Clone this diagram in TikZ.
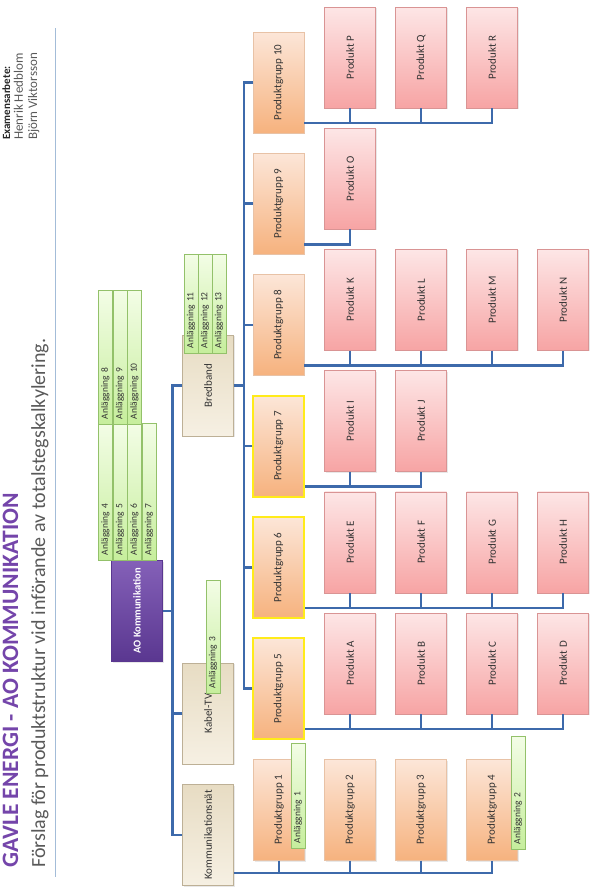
\documentclass[tikz,border=0pt]{standalone}
\usepackage{fontspec}
\setmainfont{Carlito}
\usetikzlibrary{positioning,shadows}

\definecolor{linkblue}{HTML}{3D6AAB}
\definecolor{titlepurple}{HTML}{7445AA}
\definecolor{subgray}{HTML}{595959}
\definecolor{sepblue}{HTML}{A3BCD8}
\definecolor{prodlight}{HTML}{FDE6E6}
\definecolor{proddark}{HTML}{F7A4A4}
\definecolor{prodline}{HTML}{D99494}
\definecolor{grplight}{HTML}{FCE6D8}
\definecolor{grpdark}{HTML}{F6B27E}
\definecolor{grpline}{HTML}{E8C2A6}
\definecolor{divlight}{HTML}{E7DCC3}
\definecolor{divdark}{HTML}{F6F0E3}
\definecolor{divline}{HTML}{BDB096}
\definecolor{anllight}{HTML}{F3FDE6}
\definecolor{anldark}{HTML}{C6EE9C}
\definecolor{anlline}{HTML}{93C16A}
\definecolor{rootlight}{HTML}{8460B8}
\definecolor{rootdark}{HTML}{5A3790}
\definecolor{hiyellow}{HTML}{FFEB1A}

\begin{document}
\begin{tikzpicture}[x=1pt,y=-1pt,
    box/.style={rotate=90, minimum width=101pt, minimum height=51pt, inner sep=0pt,
        font=\fontsize{11}{13}\selectfont, text=black!80,
        drop shadow={opacity=0.18, shadow xshift=1pt, shadow yshift=-1pt}},
    prod/.style={box, draw=prodline, top color=prodlight, bottom color=proddark},
    grp/.style={box, draw=grpline, top color=grplight, bottom color=grpdark},
    hilite/.style={draw=hiyellow, line width=2pt},
    div/.style={box, draw=divline, top color=divlight, bottom color=divdark},
    root/.style={box, draw=rootdark, top color=rootlight, bottom color=rootdark,
        text=white, font=\bfseries\fontsize{10.5}{12}\selectfont},
    anl/.style={rotate=90, minimum height=14pt, inner xsep=5pt, inner ysep=0pt,
        text width=#1, align=left, draw=anlline, top color=anllight, bottom color=anldark,
        font=\fontsize{9.5}{10}\selectfont, text=black!80},
    link/.style={draw=linkblue, line width=2.6pt},
    rottext/.style={rotate=90, anchor=base west, inner sep=0pt}]

\useasboundingbox (0,0) rectangle (592,889);

% rubrik
\node[rottext, text=titlepurple, font=\bfseries\fontsize{23.5}{26}\selectfont] (ttl) at (18,868)
    {GAVLE ENERGI - AO KOMMUNIKATION};
\node[rottext, text=subgray, font=\fontsize{20}{22}\selectfont] (sub) at (45,868)
    {Förslag för produktstruktur vid införande av totalstegskalkylering.};
\node[rottext, text=black!85, font=\bfseries\fontsize{11}{13}\selectfont] (exa) at (10,140) {Examensarbete:};
\node[rottext, text=subgray, font=\fontsize{13}{15}\selectfont] (nm1) at (23,140) {Henrik Hedblom};
\node[rottext, text=subgray, font=\fontsize{13}{15}\selectfont] (nm2) at (37,140) {Björn Viktorsson};
\draw[sepblue, line width=1pt] (55,28) -- (55,877);

% organisation
\node[root] (ao) at (137,611) {AO Kommunikation};
\node[div] (bred) at (208,385.5) {Bredband};
\node[div] (kabel) at (208,713.5) {Kabel-TV};
\node[div] (komm) at (208,835) {Kommunikationsnät};

\node[grp] (pg10) at (278.5,82.5) {Produktgrupp 10};
\node[grp] (pg9) at (278.5,203.7) {Produktgrupp 9};
\node[grp] (pg8) at (278.5,324.9) {Produktgrupp 8};
\node[grp, hilite] (pg7) at (278.5,446.1) {Produktgrupp 7};
\node[grp, hilite] (pg6) at (278.5,567.3) {Produktgrupp 6};
\node[grp, hilite] (pg5) at (278.5,688.5) {Produktgrupp 5};
\foreach \i in {1,...,4}
    \node[grp] (pg\i) at ({279+71*(\i-1)},810) {Produktgrupp \i};

\foreach \n [count=\i] in {P,Q,R}
    \node[prod] (p\n) at ({279+71*\i},57.5) {Produkt \n};
\node[prod] (pO) at (350,178.7) {Produkt O};
\foreach \n [count=\i] in {K,L,M,N}
    \node[prod] (p\n) at ({279+71*\i},299.9) {Produkt \n};
\foreach \n [count=\i] in {I,J}
    \node[prod] (p\n) at ({279+71*\i},421.1) {Produkt \n};
\foreach \n [count=\i] in {E,F,G,H}
    \node[prod] (p\n) at ({279+71*\i},542.3) {Produkt \n};
\foreach \n [count=\i] in {A,B,C,D}
    \node[prod] (p\n) at ({279+71*\i},663.5) {Produkt \n};

% kopplingar
\draw[link] (ao.south) -- ++(9,0);
\draw[link] (bred.north) -- ++(-10,0) |- (komm.north);
\draw[link] (kabel.north) -- ++(-10,0);
\draw[link] (bred.south) -- ++(11,0);
\draw[link] (pg10.north) -- ++(-9,0) |- (pg5.north);
\foreach \g in {6,7,8,9}
    \draw[link] (pg\g.north) -- ++(-9,0);
\draw[link] (komm.south) ++(0,38) -| (pg4.west);
\foreach \g in {1,2,3}
    \draw[link] (pg\g.west) -- ++(0,13);
\draw[link] (pg10.south) ++(0,40.5) -| (pR.west);
\draw[link] (pg9.south) ++(0,40.5) -| (pO.west);
\draw[link] (pg8.south) ++(0,40.5) -| (pN.west);
\draw[link] (pg7.south) ++(0,40.5) -| (pJ.west);
\draw[link] (pg6.south) ++(0,40.5) -| (pH.west);
\draw[link] (pg5.south) ++(0,40.5) -| (pD.west);
\foreach \n in {P,Q,K,L,M,I,E,F,G,A,B,C}
    \draw[link] (p\n.west) -- ++(0,15);

% anläggningar
\foreach \n [count=\i] in {4,5,6,7}
    \node[anl=127pt] (a\n) at ({105.5+14.5*(\i-1)},491.5) {Anläggning \n};
\foreach \n [count=\i] in {8,9,10}
    \node[anl=124pt] (a\n) at ({105.5+14.5*(\i-1)},357) {Anläggning \n};
\foreach \n [count=\i] in {11,12,13}
    \node[anl=89pt] (a\n) at ({191+14*(\i-1)},303.5) {Anläggning \n};
\node[anl=103pt] (a3) at (213,636.5) {Anläggning 3};
\node[anl=95pt] (a1) at (298,795.5) {Anläggning 1};
\node[anl=103pt] (a2) at (518,792.5) {Anläggning 2};
\end{tikzpicture}
\end{document}
